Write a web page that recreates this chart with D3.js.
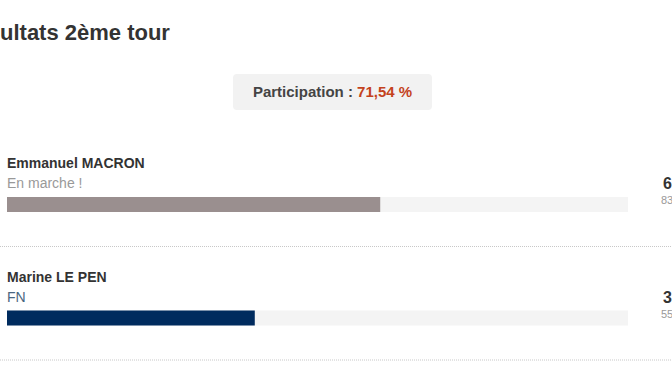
<!DOCTYPE html>
<html>
<head>
<meta charset="utf-8">
<script src="https://cdn.jsdelivr.net/npm/d3@7"></script>
<style>
  html, body { margin: 0; padding: 0; background: #fff; overflow: hidden; }
  svg { display: block; font-family: "Liberation Sans", Arial, Helvetica, sans-serif; }
</style>
</head>
<body>
<svg id="chart" width="672" height="372"></svg>
<script>
// ---- data ----
const titleText = "Résultats 2ème tour";
const participationLabel = "Participation : ";
const participationValue = "71,54 %";
const candidates = ["Emmanuel MACRON", "Marine LE PEN"];
const parties = ["En marche !", "FN"];
const percents = [60.1, 39.9];
const votes = [83512, 55436];
const barColors = ["#9a8f8f", "#002b5e"];
const partyColors = ["#999999", "#4a6680"];

// ---- drawing ----
const W = 672, H = 372;
const svg = d3.select("#chart");

const x = d3.scaleLinear().domain([0, 100]).range([7, 628]);
const rowY = d3.scaleLinear().domain([0, 1]).range([0, 113.5]);
const fmtPct = v => d3.format(".1f")(v).replace(".", ",") + " %";
const fmtVotes = v => d3.format(",")(v).replace(/,/g, " ") + " voix";

// title (partly clipped on the left, as in the reference)
const title = svg.append("text")
  .attr("y", 40)
  .attr("font-size", 22)
  .attr("font-weight", "bold")
  .attr("fill", "#333")
  .text(titleText);
const off = title.node().getSubStringLength(0, 3);
title.attr("x", -off);

// participation box
const pg = svg.append("g");
pg.append("rect")
  .attr("x", 233).attr("y", 74).attr("width", 199).attr("height", 36)
  .attr("rx", 4).attr("fill", "#f2f2f2");
const pt = pg.append("text")
  .attr("x", 332.5).attr("y", 97)
  .attr("text-anchor", "middle")
  .attr("font-size", 15)
  .attr("font-weight", "bold");
pt.append("tspan").attr("fill", "#444").text(participationLabel);
pt.append("tspan").attr("fill", "#c4421d").text(participationValue);

// rows
const rows = svg.selectAll("g.row")
  .data(candidates.map((c, i) => ({ name: c, party: parties[i], pct: percents[i], votes: votes[i], color: barColors[i], pcolor: partyColors[i], i })))
  .join("g")
  .attr("class", "row")
  .attr("transform", d => `translate(0,${rowY(d.i)})`);

rows.append("text")
  .attr("x", 7).attr("y", 168)
  .attr("font-size", 14).attr("font-weight", "bold").attr("fill", "#333")
  .text(d => d.name);

rows.append("text")
  .attr("x", 7).attr("y", 188)
  .attr("font-size", 14).attr("fill", d => d.pcolor)
  .text(d => d.party);

rows.append("rect")
  .attr("x", x(0)).attr("y", 197)
  .attr("width", x(100) - x(0)).attr("height", 15)
  .attr("fill", "#f4f4f4");

rows.append("rect")
  .attr("x", x(0)).attr("y", 197)
  .attr("width", d => x(d.pct) - x(0)).attr("height", 15)
  .attr("fill", d => d.color);

rows.append("text")
  .attr("x", 663).attr("y", 189)
  .attr("font-size", 16).attr("font-weight", "bold").attr("fill", "#333")
  .text(d => fmtPct(d.pct));

rows.append("text")
  .attr("x", 661).attr("y", 204)
  .attr("font-size", 11).attr("fill", "#999")
  .text(d => fmtVotes(d.votes));

rows.append("line")
  .attr("x1", 0).attr("x2", W)
  .attr("y1", 246.5).attr("y2", 246.5)
  .attr("stroke", "#c8c8c8")
  .attr("stroke-dasharray", "1,1");
</script>
</body>
</html>
